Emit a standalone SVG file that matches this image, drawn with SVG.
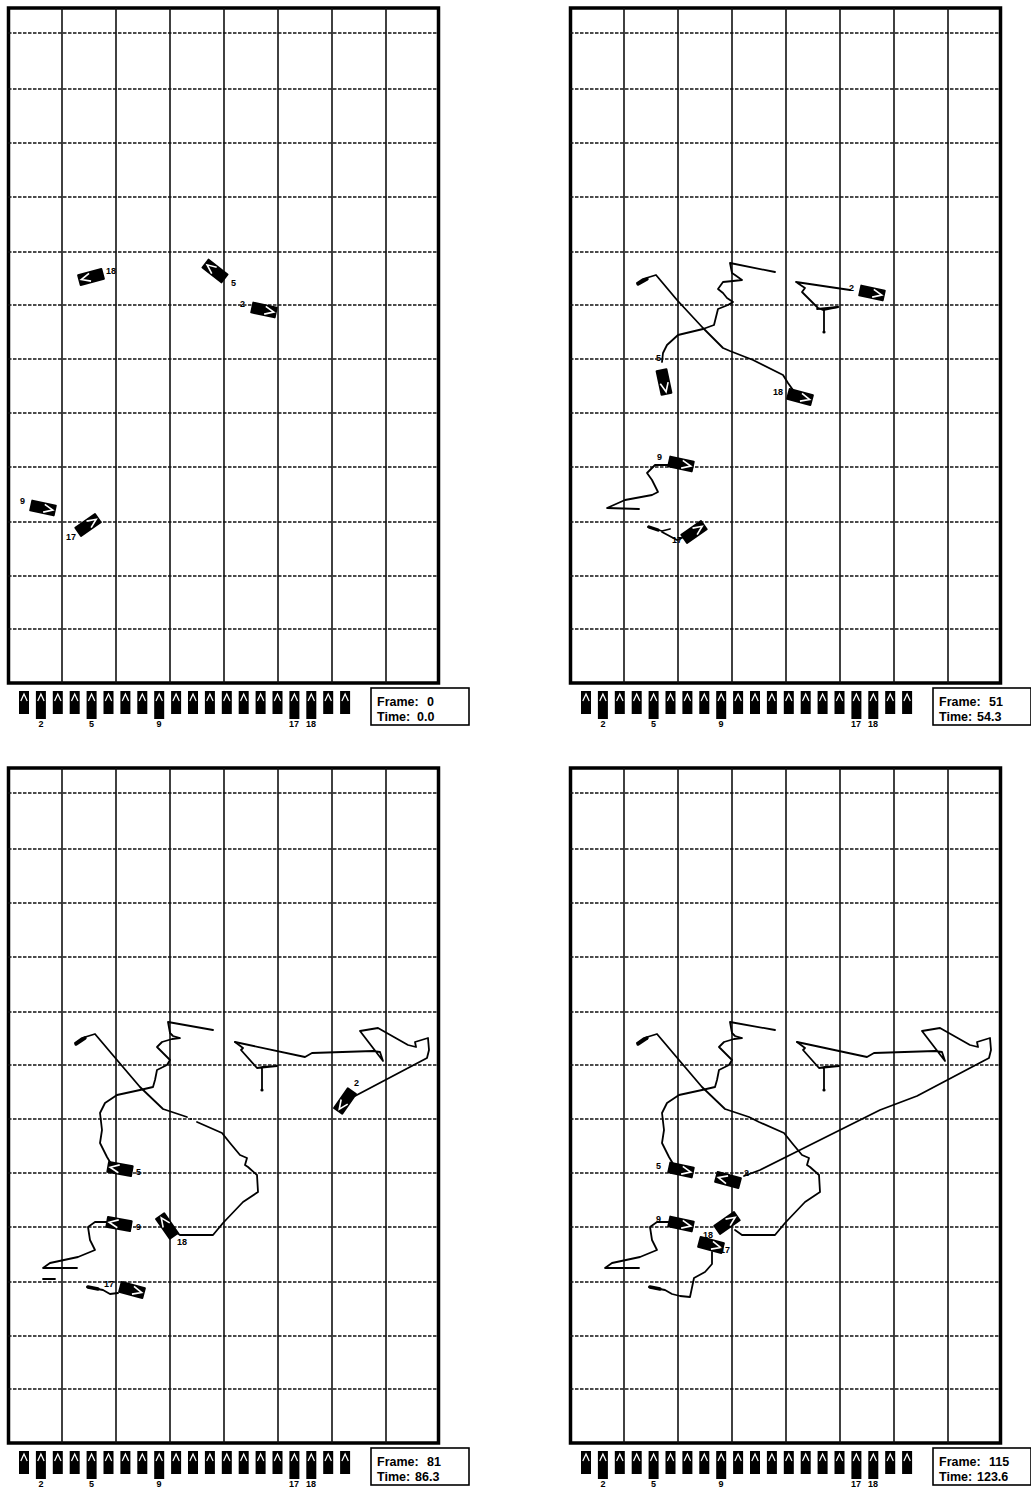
<svg xmlns="http://www.w3.org/2000/svg" xmlns:xlink="http://www.w3.org/1999/xlink" width="1031" height="1492" viewBox="0 0 1031 1492">
<style>
.bd{fill:none;stroke:#000;stroke-width:3.5}
.vl{stroke:#111;stroke-width:1.6}
.hl{stroke:#111;stroke-width:1.4;stroke-dasharray:3.5 1.5}
.tr{fill:none;stroke:#000;stroke-width:1.8;stroke-linejoin:round;stroke-linecap:round}
.tk{fill:none;stroke:#000;stroke-width:3.4;stroke-linecap:round}
.lb{font-family:"Liberation Sans",Arial,sans-serif;font-weight:bold;font-size:9px;fill:#000}
.fr{font-family:"Liberation Sans",Arial,sans-serif;font-weight:bold;font-size:12.5px;fill:#000}
.fb{fill:#fff;stroke:#000;stroke-width:1.6}
</style>
<defs>
<g id="grid">
<rect class="bd" x="8.5" y="8" width="430" height="675"/>
<g class="vl">
<line x1="62" y1="8" x2="62" y2="683"/><line x1="116" y1="8" x2="116" y2="683"/><line x1="170" y1="8" x2="170" y2="683"/><line x1="224" y1="8" x2="224" y2="683"/><line x1="278" y1="8" x2="278" y2="683"/><line x1="332" y1="8" x2="332" y2="683"/><line x1="386" y1="8" x2="386" y2="683"/>
</g>
<g class="hl">
<line x1="8" y1="33" x2="438" y2="33"/><line x1="8" y1="89" x2="438" y2="89"/><line x1="8" y1="143" x2="438" y2="143"/><line x1="8" y1="197" x2="438" y2="197"/><line x1="8" y1="252" x2="438" y2="252"/><line x1="8" y1="305" x2="438" y2="305"/><line x1="8" y1="359" x2="438" y2="359"/><line x1="8" y1="413" x2="438" y2="413"/><line x1="8" y1="467" x2="438" y2="467"/><line x1="8" y1="522" x2="438" y2="522"/><line x1="8" y1="576" x2="438" y2="576"/><line x1="8" y1="629" x2="438" y2="629"/>
</g>
</g>
<g id="ic"><rect x="0" y="0" width="10" height="23" fill="#000"/><polyline points="1.8,10 5,3 8.2,10" fill="none" stroke="#fff" stroke-width="1.3"/></g>
<g id="icl"><rect x="0" y="0" width="10" height="28" fill="#000"/><polyline points="1.8,10 5,3 8.2,10" fill="none" stroke="#fff" stroke-width="1.3"/></g>
<g id="icons">
<use href="#ic" x="19" y="691"/><use href="#icl" x="35.9" y="691"/><use href="#ic" x="52.8" y="691"/><use href="#ic" x="69.7" y="691"/><use href="#icl" x="86.6" y="691"/><use href="#ic" x="103.5" y="691"/><use href="#ic" x="120.4" y="691"/><use href="#ic" x="137.3" y="691"/><use href="#icl" x="154.2" y="691"/><use href="#ic" x="171.1" y="691"/><use href="#ic" x="188" y="691"/><use href="#ic" x="204.9" y="691"/><use href="#ic" x="221.8" y="691"/><use href="#ic" x="238.7" y="691"/><use href="#ic" x="255.6" y="691"/><use href="#ic" x="272.5" y="691"/><use href="#icl" x="289.4" y="691"/><use href="#icl" x="306.3" y="691"/><use href="#ic" x="323.2" y="691"/><use href="#ic" x="340.1" y="691"/>
<text class="lb" x="41" y="727" text-anchor="middle">2</text><text class="lb" x="91.5" y="727" text-anchor="middle">5</text><text class="lb" x="159" y="727" text-anchor="middle">9</text><text class="lb" x="294" y="727" text-anchor="middle">17</text><text class="lb" x="311" y="727" text-anchor="middle">18</text>
<rect class="fb" x="371" y="688" width="98" height="37"/>
</g>
<g id="boat"><rect x="-13" y="-6" width="26" height="12" rx="1" fill="#000"/><polyline points="1,-4 10,0 1,4" fill="none" stroke="#fff" stroke-width="1.6"/></g>
</defs>

<g id="panel-frame-0">
<use href="#grid"/>
<use href="#icons"/>
<text class="fr" x="377" y="706">Frame:</text><text class="fr" x="427" y="706">0</text>
<text class="fr" x="377" y="721">Time:</text><text class="fr" x="417" y="721">0.0</text>
<g id="f0-boat18"><use href="#boat" transform="translate(91,277) rotate(165)"/><text class="lb" x="106" y="274">18</text></g>
<g id="f0-boat5"><use href="#boat" transform="translate(215,271) rotate(218)"/><text class="lb" x="231" y="286">5</text></g>
<g id="f0-boat2"><use href="#boat" transform="translate(264,310) rotate(12)"/><text class="lb" x="240" y="307">2</text></g>
<g id="f0-boat9"><use href="#boat" transform="translate(43,508) rotate(12)"/><text class="lb" x="20" y="504">9</text></g>
<g id="f0-boat17"><use href="#boat" transform="translate(88,525) rotate(-35)"/><text class="lb" x="66" y="540">17</text></g>
</g>

<g id="panel-frame-51">
<use href="#grid" x="562"/>
<use href="#icons" x="562"/>
<text class="fr" x="939" y="706">Frame:</text><text class="fr" x="989" y="706">51</text>
<text class="fr" x="939" y="721">Time:</text><text class="fr" x="977" y="721">54.3</text>
<g id="f51-tracks">
<path class="tr" d="M637,283 L643,279 L656,275 L677,300 L703,328 L723,348 L730,351 L753,360 L783,375 L788,383 L793,390"/>
<path class="tk" d="M638,284 L647,279"/>
<path class="tr" d="M775,272 L730,263 L732,273 L735,275 L742,280 L733,281 L723,282 L718,289 L723,293 L727,298 L733,302 L728,305 L718,309 L716,317 L714,325 L703,329 L678,335 L667,345 L663,353 L662,362"/>
<path class="tr" d="M850,290 L796,282 L805,288 L802,292 L818,308 L823,310 L838,307"/>
<path class="tr" d="M817,309 L838,307 M824,310 L824,332"/>
<circle cx="824" cy="332" r="1.6"/>
<path class="tr" d="M668,465 L655,465 L647,473 L652,480 L658,492 L652,495 L625,500 L607,508 L639,509"/>
<path class="tr" d="M648,527 L662,531 L670,529 M662,532 L677,540 L684,537"/>
<path class="tk" d="M649,527 L658,530"/>
</g>
<g id="f51-boat2"><use href="#boat" transform="translate(872,293) rotate(12)"/><text class="lb" x="849" y="291">2</text></g>
<g id="f51-boat5"><use href="#boat" transform="translate(664,382) rotate(78)"/><text class="lb" x="656" y="361">5</text></g>
<g id="f51-boat18"><use href="#boat" transform="translate(800,397) rotate(15)"/><text class="lb" x="773" y="395">18</text></g>
<g id="f51-boat9"><use href="#boat" transform="translate(681,464) rotate(12)"/><text class="lb" x="657" y="460">9</text></g>
<g id="f51-boat17"><use href="#boat" transform="translate(694,532) rotate(-35)"/><text class="lb" x="672" y="543">17</text></g>
</g>

<g id="panel-frame-81">
<use href="#grid" y="760"/>
<use href="#icons" y="760"/>
<text class="fr" x="377" y="1466">Frame:</text><text class="fr" x="427" y="1466">81</text>
<text class="fr" x="377" y="1481">Time:</text><text class="fr" x="415" y="1481">86.3</text>
<g id="f81-tracks">
<path class="tr" d="M75,1043 L82,1038 L95,1034 L117,1060 L140,1087 L163,1109 L187,1117"/>
<path class="tk" d="M76,1044 L85,1038"/>
<circle cx="191" cy="1119" r="1"/>
<path class="tr" d="M197,1122 L222,1133 L230,1143 L240,1155 L247,1158 L245,1165 L248,1167 L257,1175 L258,1192 L243,1202 L223,1223 L213,1235 L180,1235 L173,1230"/>
<path class="tr" d="M213,1030 L168,1022 L170,1033 L173,1036 L180,1038 L172,1039 L162,1042 L157,1047 L163,1053 L170,1060 L167,1065 L157,1070 L155,1080 L153,1087 L140,1090 L117,1095 L105,1103 L100,1113 L102,1130 L100,1143 L107,1157 L113,1167"/>
<path class="tr" d="M235,1042 L305,1057 L312,1053 L373,1051 L380,1052 L383,1061 L360,1031 L378,1028 L408,1045 L416,1047 L415,1042 L428,1038 L429,1050 L427,1058 L355,1096"/>
<path class="tr" d="M235,1042 L243,1048 L241,1050 L257,1068 L263,1067 L277,1066 M257,1068 L277,1066 M262,1068 L262,1090"/>
<circle cx="262" cy="1090" r="1.6"/>
<path class="tr" d="M107,1222 L95,1222 L88,1227 L90,1240 L95,1250 L78,1257 L50,1263 L43,1268 L77,1268"/>
<path class="tr" d="M87,1287 L103,1290 L110,1294 L118,1293 M43,1279 L55,1279"/>
<path class="tk" d="M88,1287 L98,1289"/>
</g>
<g id="f81-boat2"><use href="#boat" transform="translate(345,1101) rotate(125)"/><text class="lb" x="354" y="1086">2</text></g>
<g id="f81-boat5"><use href="#boat" transform="translate(120,1169) rotate(190)"/><text class="lb" x="136" y="1175">5</text></g>
<g id="f81-boat9"><use href="#boat" transform="translate(119,1224) rotate(190)"/><text class="lb" x="136" y="1230">9</text></g>
<g id="f81-boat18"><use href="#boat" transform="translate(167,1226) rotate(235)"/><text class="lb" x="177" y="1245">18</text></g>
<g id="f81-boat17"><use href="#boat" transform="translate(132,1290) rotate(15)"/><text class="lb" x="104" y="1287">17</text></g>
</g>

<g id="panel-frame-115">
<use href="#grid" x="562" y="760"/>
<use href="#icons" x="562" y="760"/>
<text class="fr" x="939" y="1466">Frame:</text><text class="fr" x="989" y="1466">115</text>
<text class="fr" x="939" y="1481">Time:</text><text class="fr" x="977" y="1481">123.6</text>
<g id="f115-tracks" transform="translate(562,0)">
<path class="tr" d="M75,1043 L82,1038 L95,1034 L117,1060 L140,1087 L163,1109 L187,1117 L197,1122 L222,1133 L230,1143 L240,1155 L247,1158 L245,1165 L248,1167 L257,1175 L258,1192 L243,1202 L223,1223 L213,1235 L180,1235 L173,1230"/>
<path class="tk" d="M76,1044 L85,1038"/>
<path class="tr" d="M213,1030 L168,1022 L170,1033 L173,1036 L180,1038 L172,1039 L162,1042 L157,1047 L163,1053 L170,1060 L167,1065 L157,1070 L155,1080 L153,1087 L140,1090 L117,1095 L105,1103 L100,1113 L102,1130 L100,1143 L107,1157 L113,1167"/>
<path class="tr" d="M235,1042 L305,1057 L312,1053 L373,1051 L380,1052 L383,1061 L360,1031 L378,1028 L408,1045 L416,1047 L415,1042 L428,1038 L429,1050 L427,1058 L355,1096 L318,1110 L288,1125 L238,1150 L198,1170 L182,1176"/>
<path class="tr" d="M235,1042 L243,1048 L241,1050 L257,1068 L263,1067 L277,1066 M257,1068 L277,1066 M262,1068 L262,1090"/>
<circle cx="262" cy="1090" r="1.6"/>
<path class="tr" d="M107,1222 L95,1222 L88,1227 L90,1240 L95,1250 L78,1257 L50,1263 L43,1268 L77,1268"/>
<path class="tr" d="M87,1287 L103,1290 L110,1294 L118,1296 L128,1297 L132,1278 L143,1272 L150,1264 L150,1252"/>
<path class="tk" d="M88,1287 L98,1289"/>
</g>
<g id="f115-boat5"><use href="#boat" transform="translate(681,1170) rotate(12)"/><text class="lb" x="656" y="1169">5</text></g>
<g id="f115-boat2"><use href="#boat" transform="translate(728,1180) rotate(195)"/><text class="lb" x="744" y="1176">2</text></g>
<g id="f115-boat9"><use href="#boat" transform="translate(681,1224) rotate(12)"/><text class="lb" x="656" y="1222">9</text></g>
<g id="f115-boat18"><use href="#boat" transform="translate(727,1223) rotate(-35)"/><text class="lb" x="703" y="1238">18</text></g>
<g id="f115-boat17"><use href="#boat" transform="translate(711,1245) rotate(15)"/><text class="lb" x="720" y="1253">17</text></g>
</g>
</svg>
